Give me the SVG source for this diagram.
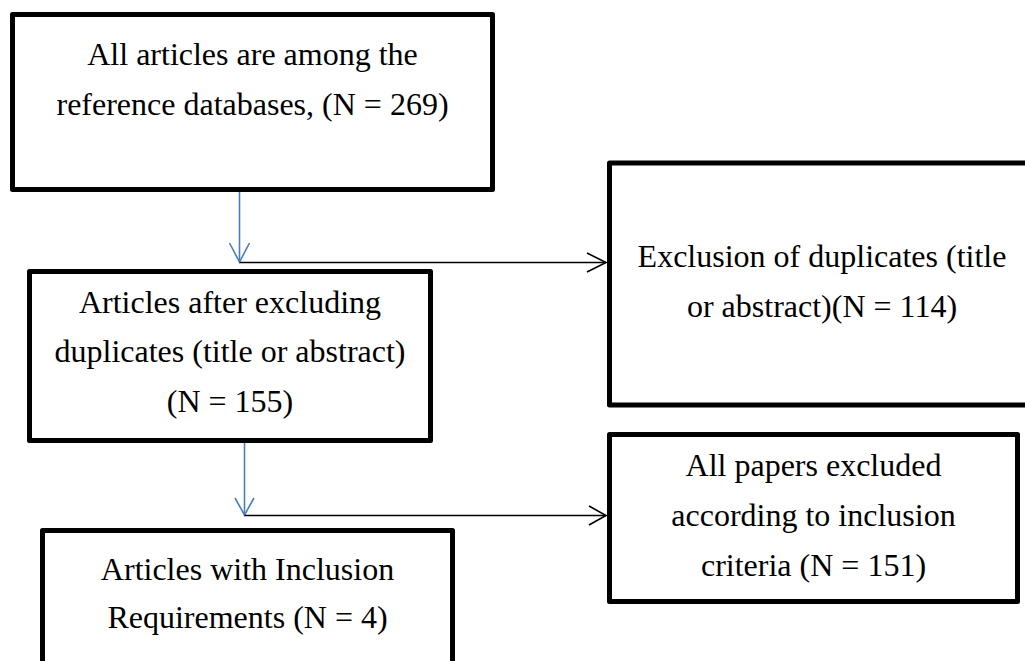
<svg xmlns="http://www.w3.org/2000/svg" width="1025" height="661" viewBox="0 0 1025 661">
<style>
.box{fill:#fff;stroke:#000;stroke-width:5;stroke-linejoin:round}
.t{font-family:"Liberation Serif","Times New Roman",serif;font-size:32px;fill:#000;text-anchor:middle}
.blue{stroke:#4a7ebb;stroke-width:1.6;fill:none}
.blk{stroke:#000;stroke-width:1.6;fill:none}
</style>
<rect width="1025" height="661" fill="#fff"/>
<g id="connectors">
<line class="blue" x1="239.5" y1="192" x2="239.5" y2="262"/>
<polyline class="blue" points="229.5,243 239.5,262 249.5,243"/>
<line class="blk" x1="239.5" y1="262.5" x2="606" y2="262.5"/>
<polyline class="blk" points="587,253 606,262.5 587,272"/>
<line class="blue" x1="244.5" y1="443" x2="244.5" y2="515"/>
<polyline class="blue" points="235,498 244.5,515 254,498"/>
<line class="blk" x1="244.5" y1="515.5" x2="606" y2="515.5"/>
<polyline class="blk" points="589,506 606,515.5 589,525"/>
</g>
<g id="n1">
<rect class="box" x="12.5" y="14.5" width="480" height="175"/>
<text class="t" x="252.5" y="65">All articles are among the</text>
<text class="t" x="252.5" y="115">reference databases, (N = 269)</text>
</g>
<g id="n2">
<rect class="box" x="609.5" y="163" width="425" height="242"/>
<text class="t" x="822" y="267">Exclusion of duplicates (title</text>
<text class="t" x="822" y="317">or abstract)(N = 114)</text>
</g>
<g id="n3">
<rect class="box" x="29.5" y="271.5" width="401" height="169"/>
<text class="t" x="230" y="313">Articles after excluding</text>
<text class="t" x="230" y="362">duplicates (title or abstract)</text>
<text class="t" x="230" y="412">(N = 155)</text>
</g>
<g id="n4">
<rect class="box" x="42.5" y="530.5" width="410" height="150"/>
<text class="t" x="247.5" y="580">Articles with Inclusion</text>
<text class="t" x="247.5" y="628">Requirements (N = 4)</text>
</g>
<g id="n5">
<rect class="box" x="609.5" y="434.5" width="408" height="167"/>
<text class="t" x="813.5" y="476">All papers excluded</text>
<text class="t" x="813.5" y="526">according to inclusion</text>
<text class="t" x="813.5" y="576">criteria (N = 151)</text>
</g>
</svg>
